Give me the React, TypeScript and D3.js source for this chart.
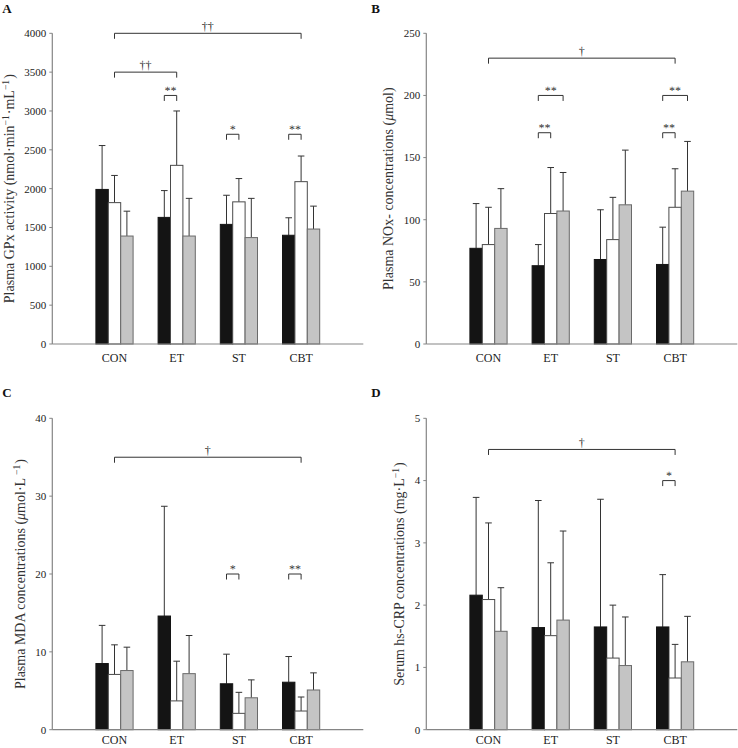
import React from "react";
import * as d3 from "d3";

// ---------- DATA ----------
const categories = ["CON", "ET", "ST", "CBT"];

// Panel A: Plasma GPx activity
const gpxPreMean = [1990, 1630, 1540, 1400];
const gpxPreSD = [565, 345, 375, 225];
const gpxMidMean = [1820, 2300, 1830, 2090];
const gpxMidSD = [350, 700, 300, 330];
const gpxPostMean = [1390, 1390, 1370, 1480];
const gpxPostSD = [320, 485, 505, 295];
const gpxTicks = [0, 500, 1000, 1500, 2000, 2500, 3000, 3500, 4000];

// Panel B: Plasma NOx- concentrations
const noxPreMean = [77, 63, 68, 64];
const noxPreSD = [36, 17, 40, 30];
const noxMidMean = [80, 105, 84, 110];
const noxMidSD = [30, 37, 34, 31];
const noxPostMean = [93, 107, 112, 123];
const noxPostSD = [32, 31, 44, 40];
const noxTicks = [0, 50, 100, 150, 200, 250];

// Panel C: Plasma MDA concentrations
const mdaPreMean = [8.5, 14.6, 5.9, 6.1];
const mdaPreSD = [4.9, 14.1, 3.8, 3.3];
const mdaMidMean = [7.1, 3.7, 2.1, 2.4];
const mdaMidSD = [3.8, 5.1, 2.7, 1.8];
const mdaPostMean = [7.6, 7.2, 4.1, 5.1];
const mdaPostSD = [3.0, 4.9, 2.3, 2.2];
const mdaTicks = [0, 10, 20, 30, 40];

// Panel D: Serum hs-CRP concentrations
const crpPreMean = [2.16, 1.64, 1.65, 1.65];
const crpPreSD = [1.57, 2.04, 2.05, 0.84];
const crpMidMean = [2.09, 1.51, 1.15, 0.83];
const crpMidSD = [1.23, 1.17, 0.85, 0.54];
const crpPostMean = [1.58, 1.76, 1.03, 1.09];
const crpPostSD = [0.7, 1.43, 0.78, 0.73];
const crpTicks = [0, 1, 2, 3, 4, 5];

// significance brackets: [group1, series1, group2, series2, yValue, label]
const gpxSig: [number, number, number, number, number, string][] = [
  [0, 1, 3, 1, 4000, "††"],
  [0, 1, 1, 1, 3500, "††"],
  [1, 0, 1, 1, 3200, "**"],
  [2, 0, 2, 1, 2700, "*"],
  [3, 0, 3, 1, 2700, "**"],
];
const noxSig: [number, number, number, number, number, string][] = [
  [0, 1, 3, 1, 230, "†"],
  [1, 0, 1, 2, 200, "**"],
  [1, 0, 1, 1, 170, "**"],
  [3, 0, 3, 2, 200, "**"],
  [3, 0, 3, 1, 170, "**"],
];
const mdaSig: [number, number, number, number, number, string][] = [
  [0, 1, 3, 1, 35, "†"],
  [2, 0, 2, 1, 20, "*"],
  [3, 0, 3, 1, 20, "**"],
];
const crpSig: [number, number, number, number, number, string][] = [
  [0, 1, 3, 1, 4.5, "†"],
  [3, 0, 3, 1, 4.0, "*"],
];

// ---------- STYLE ----------
const FONT = "'Liberation Serif', 'Times New Roman', serif";
const barFill = ["#141414", "#ffffff", "#c4c4c4"];
const barStroke = ["#141414", "#4a4a4a", "#6a6a6a"];
const axisColor = "#858585";
const inkColor = "#333333";

type PanelProps = {
  letter: string;
  axisX: number;
  top: number;
  bottom: number;
  yMax: number;
  ticks: number[];
  means: number[][];
  sds: number[][];
  sig: [number, number, number, number, number, string][];
  labelOffset: number;
  label: React.ReactNode;
  letterY: number;
  catGap: number;
};

const PLOT_W = 311;
const BAR_W = 12.4;

function Panel(p: PanelProps) {
  const x = d3.scaleLinear().domain([0, 5]).range([p.axisX, p.axisX + PLOT_W]);
  const y = d3.scaleLinear().domain([0, p.yMax]).range([p.bottom, p.top]);
  const off = d3
    .scaleBand<number>()
    .domain([0, 1, 2])
    .range([-1.5 * BAR_W, 1.5 * BAR_W]);
  const barX = (g: number, s: number) => x(g + 1) + (off(s) as number);
  const barC = (g: number, s: number) => barX(g, s) + BAR_W / 2;
  const labelX = p.axisX - p.labelOffset;
  const labelY = (p.top + p.bottom) / 2;

  return (
    <g>
      <text
        x={p.axisX - 50 + (p.axisX > 300 ? -5 : 0)}
        y={p.letterY}
        fontFamily={FONT}
        fontWeight="bold"
        fontSize={13}
        fill="#111"
      >
        {p.letter}
      </text>
      {/* bars */}
      {p.means.map((arr, s) =>
        arr.map((v, g) => (
          <g key={`b${s}-${g}`}>
            <line
              x1={barC(g, s)}
              x2={barC(g, s)}
              y1={y(v)}
              y2={y(v + p.sds[s][g])}
              stroke={inkColor}
              strokeWidth={1}
            />
            <line
              x1={barC(g, s) - 3.3}
              x2={barC(g, s) + 3.3}
              y1={y(v + p.sds[s][g])}
              y2={y(v + p.sds[s][g])}
              stroke={inkColor}
              strokeWidth={1}
            />
            <rect
              x={barX(g, s)}
              y={y(v)}
              width={BAR_W}
              height={y(0) - y(v)}
              fill={barFill[s]}
              stroke={barStroke[s]}
              strokeWidth={1}
            />
          </g>
        ))
      )}
      {/* axes */}
      <line x1={p.axisX} x2={p.axisX + PLOT_W} y1={p.bottom} y2={p.bottom} stroke={axisColor} strokeWidth={1.2} />
      <line x1={p.axisX} x2={p.axisX} y1={p.bottom} y2={p.top} stroke={axisColor} strokeWidth={1.2} />
      {p.ticks.map((t) => (
        <g key={`t${t}`}>
          <line x1={p.axisX - 3} x2={p.axisX} y1={y(t)} y2={y(t)} stroke={axisColor} strokeWidth={1} />
          <text
            x={p.axisX - 6}
            y={y(t)}
            dy="0.35em"
            textAnchor="end"
            fontFamily={FONT}
            fontSize={11}
            fill="#222"
          >
            {t}
          </text>
        </g>
      ))}
      {categories.map((c, i) => (
        <text
          key={c}
          x={x(i + 1)}
          y={p.bottom + p.catGap}
          textAnchor="middle"
          fontFamily={FONT}
          fontSize={12}
          fill="#222"
        >
          {c}
        </text>
      ))}
      {/* significance brackets */}
      {p.sig.map(([g1, s1, g2, s2, v, lab], i) => {
        const xa = barC(g1, s1);
        const xb = barC(g2, s2);
        const yy = y(v);
        const dagger = lab.includes("†");
        const tx = (xa + xb) / 2;
        const ty = yy - (dagger ? 3 : 1);
        return (
          <g key={`s${i}`}>
            <path
              d={`M${xa},${yy + 5.5}V${yy}H${xb}V${yy + 5.5}`}
              fill="none"
              stroke={inkColor}
              strokeWidth={1}
            />
            <text
              x={tx}
              y={ty}
              transform={`rotate(0.3 ${tx} ${ty})`}
              textAnchor="middle"
              fontFamily={FONT}
              fontSize={12}
              fill="#333"
            >
              {lab}
            </text>
          </g>
        );
      })}
      {/* y label */}
      <text
        transform={`translate(${labelX},${labelY}) rotate(-90)`}
        textAnchor="middle"
        fontFamily={FONT}
        fontSize={14}
        fill="#333"
      >
        {p.label}
      </text>
    </g>
  );
}

const sup = (t: string) => (
  <>
    <tspan dy={-5} fontSize={9.5}>
      {t}
    </tspan>
    <tspan dy={5} fontSize={14}>
      {"\u200a"}
    </tspan>
  </>
);

export default function App() {
  return (
    <svg
      width={738}
      height={748}
      style={{ position: "absolute", left: 0, top: 0, background: "#fff" }}
    >
      <Panel
        letter="A"
        letterY={13}
        axisX={52.3}
        top={33.3}
        bottom={344}
        yMax={4000}
        ticks={gpxTicks}
        means={[gpxPreMean, gpxMidMean, gpxPostMean]}
        sds={[gpxPreSD, gpxMidSD, gpxPostSD]}
        sig={gpxSig}
        labelOffset={38.5}
        catGap={17.5}
        label={
          <>
            <tspan>Plasma GPx activity (nmol·min</tspan>
            {sup("−1")}
            <tspan>·mL</tspan>
            {sup("−1")}
            <tspan>)</tspan>
          </>
        }
      />
      <Panel
        letter="B"
        letterY={13}
        axisX={426.3}
        top={33.3}
        bottom={344}
        yMax={250}
        ticks={noxTicks}
        means={[noxPreMean, noxMidMean, noxPostMean]}
        sds={[noxPreSD, noxMidSD, noxPostSD]}
        sig={noxSig}
        labelOffset={33}
        catGap={17.5}
        label={
          <>
            <tspan>Plasma NOx- concentrations (</tspan>
            <tspan fontStyle="italic">μ</tspan>
            <tspan>mol)</tspan>
          </>
        }
      />
      <Panel
        letter="C"
        letterY={397}
        axisX={52.3}
        top={418.3}
        bottom={729.7}
        yMax={40}
        ticks={mdaTicks}
        means={[mdaPreMean, mdaMidMean, mdaPostMean]}
        sds={[mdaPreSD, mdaMidSD, mdaPostSD]}
        sig={mdaSig}
        labelOffset={27}
        catGap={14.5}
        label={
          <>
            <tspan>Plasma MDA concentrations (</tspan>
            <tspan fontStyle="italic">μ</tspan>
            <tspan>mol·L </tspan>
            {sup("−1")}
            <tspan>)</tspan>
          </>
        }
      />
      <Panel
        letter="D"
        letterY={397}
        axisX={426.3}
        top={418.3}
        bottom={729.7}
        yMax={5}
        ticks={crpTicks}
        means={[crpPreMean, crpMidMean, crpPostMean]}
        sds={[crpPreSD, crpMidSD, crpPostSD]}
        sig={crpSig}
        labelOffset={22}
        catGap={14.5}
        label={
          <>
            <tspan>Serum hs-CRP concentrations (mg·L</tspan>
            {sup("−1")}
            <tspan>)</tspan>
          </>
        }
      />
    </svg>
  );
}
